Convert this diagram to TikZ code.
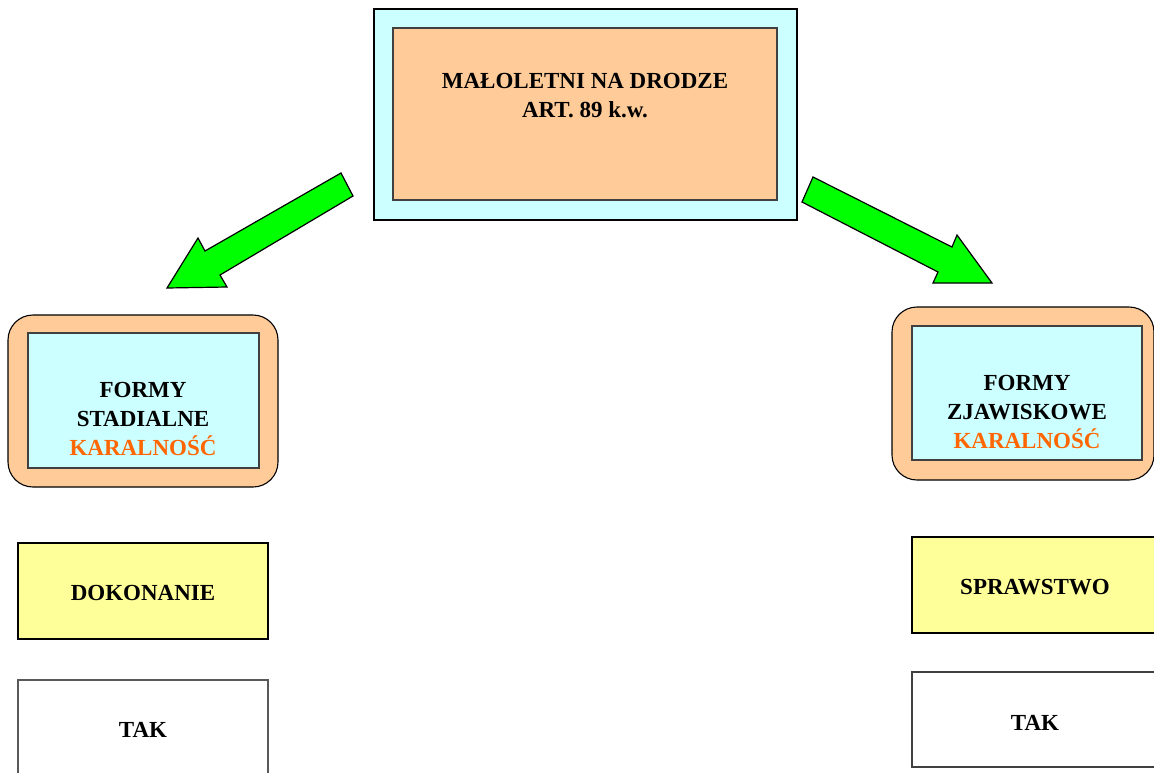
\documentclass[tikz,border=0pt]{standalone}
\usepackage{fontspec}
\setmainfont{Liberation Serif}
\definecolor{cyanbox}{HTML}{CCFFFF}
\definecolor{peach}{HTML}{FFCC99}
\definecolor{yellowbox}{HTML}{FFFF99}
\definecolor{orangetxt}{HTML}{FF6600}
\definecolor{arrowgreen}{HTML}{00FF00}
\tikzset{
  box/.style={draw=black, line width=1.1pt, inner sep=0pt},
  lbl/.style={font=\fontsize{23}{29}\selectfont\bfseries, align=center, inner sep=0pt},
  bigarrow/.style={draw=black, fill=arrowgreen, line width=1.2pt, line join=miter},
}
\begin{document}
\begin{tikzpicture}[x=1pt,y=-1pt]
\useasboundingbox (0,0) rectangle (1154,772);
% top box
\node[box, fill=cyanbox, minimum width=423pt, minimum height=211pt] (topouter) at (585.5,114.5) {};
\node[box, draw=black!75, fill=peach, minimum width=384pt, minimum height=172pt] (topinner) at (585,114) {};
\node[lbl] (toptext) at (585,96) {MAŁOLETNI NA DRODZE\\ART. 89 k.w.};
% arrows
\draw[bigarrow] (341,173) -- (353,196) -- (220,275) -- (227,287) -- (167,288) -- (198,238) -- (205,251) -- cycle;
\draw[bigarrow] (813,177) -- (952,247) -- (957,235) -- (992,283) -- (933,283) -- (938,272) -- (802,202) -- cycle;
% left rounded box
\node[box, fill=peach, rounded corners=25pt, minimum width=270pt, minimum height=172pt] (lout) at (143,401) {};
\node[box, draw=black!75, fill=cyanbox, minimum width=231pt, minimum height=135pt] (lin) at (143.5,400.5) {};
\node[lbl] (ltext) at (143,419) {FORMY\\STADIALNE\\\textcolor{orangetxt}{KARALNOŚĆ}};
% right rounded box
\node[box, fill=peach, rounded corners=25pt, minimum width=262pt, minimum height=173pt] (rout) at (1023,393.5) {};
\node[box, draw=black!75, fill=cyanbox, minimum width=230pt, minimum height=134pt] (rin) at (1027,393) {};
\node[lbl] (rtext) at (1027,412) {FORMY\\ZJAWISKOWE\\\textcolor{orangetxt}{KARALNOŚĆ}};
% left column
\node[box, fill=yellowbox, minimum width=250pt, minimum height=96pt] (dok) at (143,591) {};
\node[lbl] (doktext) at (143,593) {DOKONANIE};
\node[box, draw=black!65, fill=white, minimum width=250pt, minimum height=100pt] (takl) at (143,730) {};
\node[lbl] (takltext) at (143,730) {TAK};
% right column
\node[box, fill=yellowbox, minimum width=250pt, minimum height=96pt] (spr) at (1037,585) {};
\node[lbl] (sprtext) at (1035,587) {SPRAWSTWO};
\node[box, draw=black!75, fill=white, minimum width=250pt, minimum height=95pt] (takr) at (1037,719.5) {};
\node[lbl] (takrtext) at (1035,723) {TAK};
\end{tikzpicture}
\end{document}
